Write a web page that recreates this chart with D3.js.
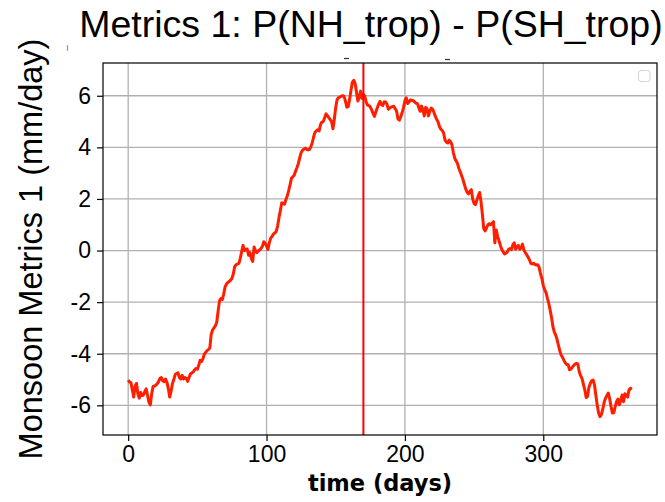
<!DOCTYPE html>
<html>
<head>
<meta charset="utf-8">
<script src="https://cdn.jsdelivr.net/npm/d3@7"></script>
<style>
  html, body { margin: 0; padding: 0; background: #ffffff; }
  svg { display: block; }
</style>
</head>
<body>
<svg id="chart" width="665" height="502"></svg>
<script>
// Daily monsoon metric: NH tropical precipitation minus SH tropical precipitation (mm/day)
const days = d3.range(0, 365);
const metric = [
  -5.02, -5.10, -5.12, -5.40, -5.68, -5.25, -5.15, -5.55, -5.72, -5.50,
  -5.62, -5.60, -5.47, -5.36, -5.62, -5.88, -5.98, -5.55, -5.27, -5.25,
  -5.22, -5.16, -5.08, -4.95, -4.92, -5.05, -5.08, -4.98, -5.10, -5.35,
  -5.68, -5.45, -5.15, -5.00, -4.80, -4.76, -4.74, -4.92, -4.98, -4.84,
  -4.98, -4.92, -4.95, -5.07, -4.92, -4.78, -4.74, -4.71, -4.62, -4.57,
  -4.60, -4.45, -4.25, -4.30, -4.20, -4.02, -3.95, -3.88, -3.84, -3.78,
  -3.25, -3.08, -3.00, -2.92, -2.78, -2.35, -1.95, -1.86, -1.90, -1.70,
  -1.42, -1.30, -1.24, -1.20, -1.15, -1.08, -0.90, -0.62, -0.55, -0.52,
  -0.50, -0.30, -0.05, 0.20, 0.00, 0.05, 0.06, -0.18, -0.08, -0.30,
  -0.42, 0.14, 0.00, -0.08, -0.02, 0.02, 0.08, 0.16, 0.34, 0.28,
  0.18, 0.04, 0.30, 0.48, 0.55, 0.64, 0.68, 0.74, 0.95, 1.28,
  1.55, 1.85, 1.82, 1.80, 1.98, 2.12, 2.32, 2.55, 2.80, 2.86,
  2.92, 3.08, 3.22, 3.38, 3.60, 3.80, 3.88, 3.93, 3.97, 3.92,
  3.90, 3.92, 4.02, 4.17, 4.40, 4.58, 4.64, 4.68, 4.64, 4.88,
  4.98, 5.00, 5.15, 5.30, 5.23, 5.15, 5.08, 5.00, 4.72, 5.10,
  5.55, 5.85, 5.93, 5.95, 5.98, 6.00, 5.98, 5.80, 5.56, 5.58,
  5.85, 6.20, 6.52, 6.60, 6.48, 6.15, 5.80, 5.95, 6.18, 5.90,
  6.05, 5.98, 5.75, 5.64, 5.62, 5.56, 5.45, 5.32, 5.20, 5.38,
  5.53, 5.68, 5.78, 5.65, 5.62, 5.77, 5.76, 5.68, 5.48, 5.52,
  5.56, 5.58, 5.59, 5.50, 5.40, 5.10, 5.05, 5.18, 5.35, 5.55,
  5.80, 5.92, 5.70, 5.76, 5.84, 5.82, 5.82, 5.76, 5.71, 5.70,
  5.55, 5.40, 5.60, 5.45, 5.22, 5.55, 5.50, 5.22, 5.40, 5.52,
  5.48, 5.35, 5.20, 5.08, 4.98, 4.80, 4.70, 4.66, 4.55, 4.28,
  4.20, 4.17, 4.28, 4.22, 4.10, 3.80, 3.58, 3.48, 3.38, 3.18,
  3.05, 2.90, 2.75, 2.56, 2.38, 2.25, 2.20, 2.30, 2.36, 2.00,
  1.82, 1.78, 1.95, 2.12, 2.25, 1.90, 1.40, 0.85, 0.76, 0.88,
  1.00, 1.04, 1.00, 1.05, 1.12, 0.30, 0.80, 0.55, 0.38, 0.20,
  0.05, -0.05, -0.13, -0.10, -0.06, 0.05, 0.08, 0.03, 0.22, 0.30,
  0.05, 0.15, 0.20, 0.05, 0.10, 0.25, 0.02, -0.08, -0.16, -0.25,
  -0.36, -0.50, -0.52, -0.49, -0.54, -0.56, -0.55, -0.65, -0.90, -1.08,
  -1.35, -1.52, -1.63, -1.85, -2.05, -2.32, -2.60, -2.95, -3.16, -3.28,
  -3.45, -3.68, -3.90, -4.06, -4.15, -4.26, -4.36, -4.42, -4.43, -4.62,
  -4.60, -4.52, -4.46, -4.40, -4.37, -4.40, -4.70, -4.85, -4.96, -5.18,
  -5.40, -5.70, -5.65, -5.30, -5.15, -5.05, -5.02, -5.20, -5.60, -6.00,
  -6.30, -6.44, -6.36, -6.15, -5.88, -5.72, -5.62, -5.52, -5.75, -6.05,
  -6.30, -6.28, -6.05, -5.85, -5.76, -5.98, -5.80, -5.60, -5.86, -5.55,
  -5.62, -5.68, -5.40, -5.34, -5.38
];
// Day marked with a vertical line (around the June solstice)
const markerDays = [170];
const xTicks = [0, 100, 200, 300];
const yTicks = [-6, -4, -2, 0, 2, 4, 6];

const titleText = "Metrics 1: P(NH_trop) - P(SH_trop)";
const xLabelText = "time (days)";
const yLabelText = "Monsoon Metrics 1 (mm/day)";

const svg = d3.select("#chart");
const W = 665, H = 502;
const plot = { left: 103, right: 657, top: 63, bottom: 435 };

svg.append("rect").attr("width", W).attr("height", H).attr("fill", "#ffffff");

const xPad = (d3.max(days) - d3.min(days)) * 0.05;
const x = d3.scaleLinear()
  .domain([d3.min(days) - xPad, d3.max(days) + xPad])
  .range([plot.left, plot.right]);
const y = d3.scaleLinear()
  .domain([-7.15, 7.27])
  .range([plot.bottom, plot.top]);

const tickFont = "'Liberation Sans', Arial, sans-serif";

// grid
const grid = svg.append("g").attr("stroke", "#b0b0b0").attr("stroke-width", 1.3);
grid.selectAll("line.gx").data(xTicks).join("line")
  .attr("x1", d => x(d)).attr("x2", d => x(d))
  .attr("y1", plot.top).attr("y2", plot.bottom);
grid.selectAll("line.gy").data(yTicks).join("line")
  .attr("x1", plot.left).attr("x2", plot.right)
  .attr("y1", d => y(d)).attr("y2", d => y(d));

// axes
const xAxis = d3.axisBottom(x).tickValues(xTicks).tickSize(6).tickPadding(5)
  .tickFormat(d3.format("d"));
const yAxis = d3.axisLeft(y).tickValues(yTicks).tickSize(6).tickPadding(6)
  .tickFormat(d => d < 0 ? "-" + Math.abs(d) : String(d));

const gx = svg.append("g").attr("transform", `translate(0,${plot.bottom})`).call(xAxis);
const gy = svg.append("g").attr("transform", `translate(${plot.left},0)`).call(yAxis);
[gx, gy].forEach(g => {
  g.select(".domain").remove();
  g.selectAll(".tick line").attr("stroke", "#000").attr("stroke-width", 1.2);
  g.selectAll(".tick text").attr("fill", "#000")
    .style("font-family", tickFont).style("font-size", "23px");
});

// data line
const line = d3.line().x((d, i) => x(days[i])).y(d => y(d));
svg.append("path").datum(metric)
  .attr("fill", "none").attr("stroke", "#ff1e00")
  .attr("stroke-width", 3).attr("stroke-linejoin", "round")
  .attr("d", line);

// vertical marker
svg.selectAll("line.marker").data(markerDays).join("line")
  .attr("class", "marker")
  .attr("x1", d => x(d)).attr("x2", d => x(d))
  .attr("y1", plot.top).attr("y2", plot.bottom)
  .attr("stroke", "#ff0000").attr("stroke-width", 2);

// frame
svg.append("rect")
  .attr("x", plot.left).attr("y", plot.top)
  .attr("width", plot.right - plot.left).attr("height", plot.bottom - plot.top)
  .attr("fill", "none").attr("stroke", "#000").attr("stroke-width", 1.2);

// empty legend box
svg.append("rect")
  .attr("x", 638.5).attr("y", 70.5).attr("width", 11.5).attr("height", 11)
  .attr("rx", 2.5).attr("fill", "#ffffff")
  .attr("stroke", "#d4d4d4").attr("stroke-width", 1);

// faint residue of an overlapped header line above the axes
const residue = svg.append("g").attr("stroke", "#333").attr("stroke-width", 1.2);
residue.append("line").attr("x1", 344).attr("x2", 349).attr("y1", 58.5).attr("y2", 58.5);
residue.append("line").attr("x1", 445).attr("x2", 450).attr("y1", 59.5).attr("y2", 59.5);
residue.append("line").attr("x1", 67.5).attr("x2", 67.5).attr("y1", 45).attr("y2", 51)
  .attr("stroke", "#999");

// title
svg.append("text")
  .attr("x", 371).attr("y", 37)
  .attr("text-anchor", "middle")
  .style("font-family", tickFont).style("font-size", "37.5px")
  .attr("fill", "#000")
  .text(titleText);

// axis labels
svg.append("text")
  .attr("x", (plot.left + plot.right) / 2).attr("y", 491)
  .attr("text-anchor", "middle")
  .style("font-family", "'DejaVu Sans', sans-serif").style("font-weight", "bold")
  .style("font-size", "22.5px").attr("fill", "#000")
  .text(xLabelText);

svg.append("text")
  .attr("transform", `translate(42,${(plot.top + plot.bottom) / 2}) rotate(-90)`)
  .attr("text-anchor", "middle")
  .style("font-family", tickFont).style("font-size", "32.5px")
  .attr("fill", "#000")
  .text(yLabelText);
</script>
</body>
</html>
